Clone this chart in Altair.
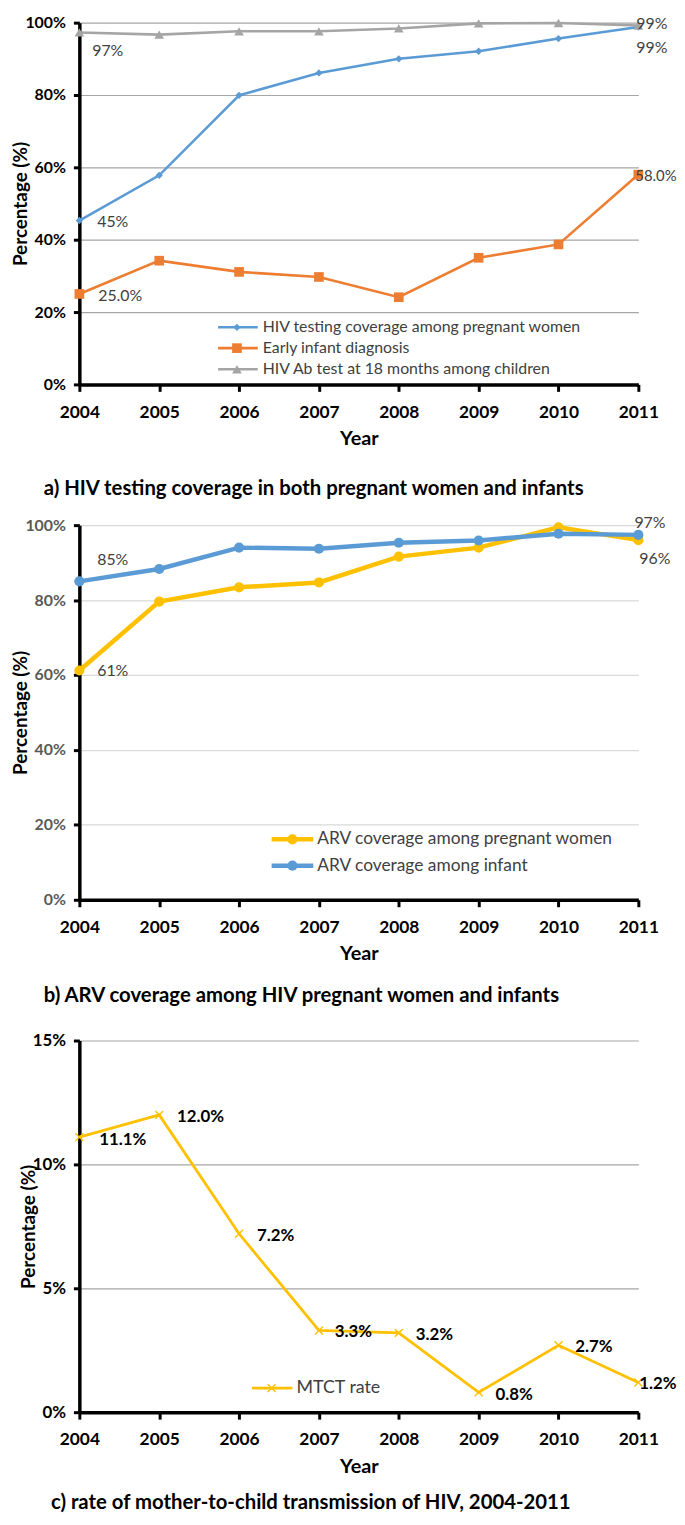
import altair as alt
import pandas as pd

FONT = "Lato"
years = [2004, 2005, 2006, 2007, 2008, 2009, 2010, 2011]

# ---- panel a: HIV testing coverage ----
series_a = ["HIV testing coverage among pregnant women",
            "Early infant diagnosis",
            "HIV Ab test at 18 months among children"]
testing_pregnant = [45.3, 57.8, 79.9, 86.1, 90.0, 92.1, 95.6, 98.8]
early_infant_dx = [25.0, 34.2, 31.1, 29.7, 24.1, 35.0, 38.7, 58.0]
ab_test_18m = [97.3, 96.7, 97.6, 97.6, 98.4, 99.8, 99.9, 99.2]
colors_a = ["#5B9BD5", "#ED7D31", "#A5A5A5"]

# ---- panel b: ARV coverage ----
series_b = ["ARV coverage among pregnant women", "ARV coverage among infant"]
arv_pregnant = [61.2, 79.6, 83.4, 84.7, 91.6, 94.0, 99.4, 96.0]
arv_infant = [85.0, 88.3, 94.0, 93.7, 95.3, 95.9, 97.7, 97.4]
colors_b = ["#FFC000", "#5B9BD5"]

# ---- panel c: MTCT rate ----
series_c = ["MTCT rate"]
mtct_rate = [11.1, 12.0, 7.2, 3.3, 3.2, 0.8, 2.7, 1.2]
colors_c = ["#FFC000"]

captions = ["a) HIV testing coverage in both pregnant women and infants",
            "b) ARV coverage among HIV pregnant women and infants",
            "c) rate of mother-to-child transmission of HIV, 2004-2011"]

W = 564
HA, HB, HC = 365, 378, 375


def frame(values, name):
    return pd.DataFrame({"year": years, "value": values, "series": name})


def x_enc():
    return alt.X("year:Q", scale=alt.Scale(domain=[2004, 2011], nice=False, zero=False),
                 axis=alt.Axis(values=years, format="d", title="Year", grid=False,
                               domainColor="black", domainWidth=3.5, tickColor="black",
                               tickWidth=3, tickSize=7, labelFlush=False,
                               labelFont=FONT, labelFontSize=17.5, labelFontWeight="bold",
                               labelColor="black", labelPadding=12,
                               titleFont=FONT, titleFontSize=20, titleFontWeight="bold",
                               titleColor="black", titlePadding=8))


def y_enc(domain, ticks, grid_color, label_color, label_size):
    return alt.Y("value:Q", scale=alt.Scale(domain=domain, nice=False, zero=True),
                 axis=alt.Axis(values=ticks, labelExpr="datum.value + '%'",
                               title="Percentage (%)", grid=True, gridColor=grid_color,
                               gridWidth=1.2, domainColor="black", domainWidth=3.5,
                               tickColor="black", tickWidth=3, tickSize=6, labelPadding=8,
                               labelFont=FONT, labelFontSize=label_size, labelFontWeight="bold",
                               labelColor=label_color, titleFont=FONT, titleFontSize=19,
                               titleFontWeight="bold", titleColor="black", titlePadding=-6))


def series_layers(df, X, Y, color, line_w, point_kw):
    line = alt.Chart(df).mark_line(color=color, strokeWidth=line_w).encode(x=X, y=Y)
    pts = alt.Chart(df).mark_point(color=color, opacity=1, **point_kw).encode(x=X, y=Y)
    return [line, pts]


def label_layer(df, X, Y, idx, text, dx, dy, size, weight, color):
    d = df.iloc[[idx]].copy()
    d["label"] = text
    return alt.Chart(d).mark_text(align="left", baseline="middle", dx=dx, dy=dy, font=FONT,
                                  fontSize=size, fontWeight=weight, color=color).encode(
        x=X, y=Y, text="label:N")


def legend_layers(name, color, line_w, point_kw, x0, x1, xm, xt, y, size):
    d = pd.DataFrame({"label": [name]})
    rule = alt.Chart(d).mark_rule(color=color, strokeWidth=line_w).encode(
        x=alt.value(x0), x2=alt.value(x1), y=alt.value(y))
    pt = alt.Chart(d).mark_point(color=color, opacity=1, **point_kw).encode(
        x=alt.value(xm), y=alt.value(y))
    txt = alt.Chart(d).mark_text(align="left", baseline="middle", font=FONT, fontSize=size,
                                 color="#404040").encode(
        x=alt.value(xt), y=alt.value(y), text="label:N")
    return [rule, pt, txt]


def caption(text, offset):
    return alt.TitleParams(text=text, orient="bottom", anchor="start", frame="bounds", dx=32,
                           offset=offset, font=FONT, fontSize=20.5, fontWeight="bold",
                           color="black")


# ---------------- panel a ----------------
Xa = x_enc()
Ya = y_enc([0, 100], [0, 20, 40, 60, 80, 100], "#A6A6A6", "black", 16)
dfa = [frame(testing_pregnant, series_a[0]), frame(early_infant_dx, series_a[1]),
       frame(ab_test_18m, series_a[2])]
pk_a = [dict(shape="diamond", filled=True, size=55),
        dict(shape="square", filled=True, size=95),
        dict(shape="triangle-up", filled=True, size=95)]
layers_a = []
for i in range(3):
    layers_a += series_layers(dfa[i], Xa, Ya, colors_a[i], 2.6, pk_a[i])
lab = dict(size=16, weight="normal", color="#404040")
layers_a += [
    label_layer(dfa[2], Xa, Ya, 0, "97%", 13, 19, **lab),
    label_layer(dfa[0], Xa, Ya, 0, "45%", 18, 2, **lab),
    label_layer(dfa[1], Xa, Ya, 0, "25.0%", 19, 2, **lab),
    label_layer(dfa[1], Xa, Ya, 7, "58.0%", -3, 1, size=15, weight="normal", color="#404040"),
    label_layer(dfa[2], Xa, Ya, 7, "99%", -2, -2, **lab),
    label_layer(dfa[0], Xa, Ya, 7, "99%", -2, 21, **lab),
]
for i, dy in enumerate([57.6, 36.6, 15.3]):
    layers_a += legend_layers(series_a[i], colors_a[i], 2.6, pk_a[i],
                              140, 180, 159, 185, HA - dy, 16)
chart_a = alt.layer(*layers_a).properties(width=W, height=HA, title=caption(captions[0], 31.5))

# ---------------- panel b ----------------
Xb = x_enc()
Yb = y_enc([0, 100], [0, 20, 40, 60, 80, 100], "#D9D9D9", "#595959", 16)
dfb = [frame(arv_pregnant, series_b[0]), frame(arv_infant, series_b[1])]
pk_b = dict(shape="circle", filled=True, size=105)
layers_b = []
for i in range(2):
    layers_b += series_layers(dfb[i], Xb, Yb, colors_b[i], 4.5, pk_b)
layers_b += [
    label_layer(dfb[1], Xb, Yb, 0, "85%", 18, -21, **lab),
    label_layer(dfb[0], Xb, Yb, 0, "61%", 18, 1, **lab),
    label_layer(dfb[1], Xb, Yb, 7, "97%", -4, -12, **lab),
    label_layer(dfb[0], Xb, Yb, 7, "96%", 1, 19, **lab),
]
for i, dy in enumerate([61, 34.4]):
    layers_b += legend_layers(series_b[i], colors_b[i], 4.5, pk_b,
                              194, 236, 215, 240, HB - dy, 17.5)
chart_b = alt.layer(*layers_b).properties(width=W, height=HB, title=caption(captions[1], 23))

# ---------------- panel c ----------------
Xc = x_enc()
Yc = y_enc([0, 15], [0, 5, 10, 15], "#A6A6A6", "black", 17)
dfc = frame(mtct_rate, series_c[0])
pk_c = dict(shape="M-1,-1L1,1M-1,1L1,-1", filled=False, size=64, strokeWidth=1.4)
layers_c = series_layers(dfc, Xc, Yc, colors_c[0], 2.8, pk_c)
labc = dict(size=17, weight="bold", color="black")
offs = [(20, 3), (18, 2), (18, 2), (16, 2), (17, 2), (17, 3), (17, 2), (1, 2)]
for i, t in enumerate(["11.1%", "12.0%", "7.2%", "3.3%", "3.2%", "0.8%", "2.7%", "1.2%"]):
    layers_c.append(label_layer(dfc, Xc, Yc, i, t, offs[i][0], offs[i][1], **labc))
layers_c += legend_layers(series_c[0], colors_c[0], 2.8, pk_c, 174, 215, 194, 219, HC - 24.3, 18)
chart_c = alt.layer(*layers_c).properties(width=W, height=HC, title=caption(captions[2], 17))

top = alt.vconcat(chart_a, chart_b, spacing=14)
chart = alt.vconcat(top, chart_c, spacing=25).properties(
    padding={"left": 4, "top": 0, "right": 0, "bottom": 0}, background="white"
).configure_view(strokeWidth=0)

chart.save("out.html", embed_options={"renderer": "svg", "actions": False})
